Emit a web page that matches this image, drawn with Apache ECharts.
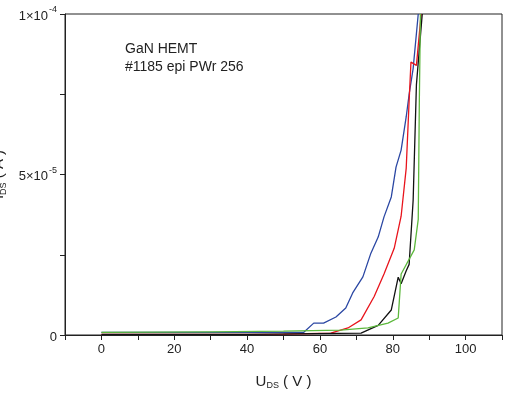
<!doctype html>
<html>
<head>
<meta charset="UTF-8">
<script src="https://cdn.jsdelivr.net/npm/echarts@6/dist/echarts.min.js"></script>
<style>body{margin:0;background:#fff}</style>
</head>
<body>
<div id="main" style="width:508px;height:400px;"></div>
<script>
    // current in units of 1e-5 A
    var blue = [[0,0.08],[20,0.08],[40,0.08],[55.5,0.08],[58.3,0.37],[61,0.37],[64.4,0.56],[67.1,0.84],[69,1.31],[71.8,1.81],[74,2.55],[76,3.05],[77.6,3.68],[79.6,4.3],[80.9,5.23],[82.3,5.76],[83.7,6.8],[84.5,7.5],[85.6,8.3],[87,10]];
    var red = [[0,0.02],[30,0.02],[50,0.03],[63,0.06],[67.7,0.22],[71.3,0.47],[74.9,1.2],[77.6,1.9],[80.4,2.7],[82.3,3.7],[83.7,5.2],[84.5,7.3],[85,8.5],[86.5,8.4],[87.8,10]];
    var black = [[0,0.02],[40,0.02],[71.3,0.06],[76,0.3],[79.6,0.78],[81.5,1.8],[82.3,1.6],[83.7,2.0],[84.5,2.2],[85.6,4.2],[86.5,7.8],[88.1,10]];
    var green = [[0,0.08],[30,0.1],[50,0.12],[65.7,0.15],[73.2,0.22],[78.7,0.37],[81.5,0.53],[82.3,1.9],[85.9,2.65],[87,3.6],[87.3,7.3],[87.6,10]];

    var myChart = echarts.init(document.getElementById('main'));
    var line = function (data, color) {
        return {type: 'line', data: data, showSymbol: false, lineStyle: {color: color, width: 1.3}, clip: true};
    };
    myChart.setOption({
        animation: false,
        textStyle: {fontFamily: 'Liberation Sans'},
        grid: {left: 65, right: 6, top: 14, bottom: 65, outerBoundsMode: 'none', containLabel: false},
        graphic: [
            {type: 'text', left: 125, top: 40, style: {text: 'GaN HEMT\n#1185 epi PWr 256', font: '14px Liberation Sans', fill: '#222', lineHeight: 18}},
            {type: 'rect', shape: {x: 65, y: 14, width: 437, height: 321}, style: {fill: 'none', stroke: '#222', lineWidth: 1}, silent: true}
        ],
        xAxis: {
            type: 'value', min: -10, max: 110, interval: 10,
            splitLine: {show: false},
            axisLine: {onZero: false, lineStyle: {color: '#222'}},
            axisTick: {length: 5, lineStyle: {color: '#222'}},
            axisLabel: {color: '#222', fontSize: 13, formatter: function (v) { return (v % 20 === 0 && v >= 0 && v <= 100) ? String(v) : ''; }},
            name: '{b|U}{s|DS}{b| ( V )}', nameLocation: 'middle', nameGap: 38,
            nameTextStyle: {rich: {b: {fontSize: 15, color: '#222'}, s: {fontSize: 9, color: '#222', padding: [8, 0, 0, 0]}}}
        },
        yAxis: {
            type: 'value', min: 0, max: 10, interval: 2.5,
            splitLine: {show: false},
            axisLine: {show: true, onZero: false, lineStyle: {color: '#222'}},
            axisTick: {length: 5, lineStyle: {color: '#222'}},
            axisLabel: {color: '#222', formatter: function (v) {
                if (v === 0) return '{n|0}';
                if (v === 5) return '{n|5×10}{sup|-5}';
                if (v === 10) return '{n|1×10}{sup|-4}';
                return '';
            }, rich: {n: {fontSize: 13, color: '#222', padding: [4, 0, 0, 0]}, sup: {fontSize: 9, color: '#222', padding: [0, 0, 8, 1]}}},
            name: '{b|I}{s|DS}{b| ( A )}', nameLocation: 'middle', nameGap: 47, nameRotate: 90,
            nameTextStyle: {rich: {b: {fontSize: 15, color: '#222'}, s: {fontSize: 9, color: '#222', padding: [8, 0, 0, 0]}}}
        },
        series: [line(blue, '#2b47a3'), line(red, '#e8141c'), line(black, '#111'), line(green, '#5cb83c')]
    });
</script>
</body>
</html>
